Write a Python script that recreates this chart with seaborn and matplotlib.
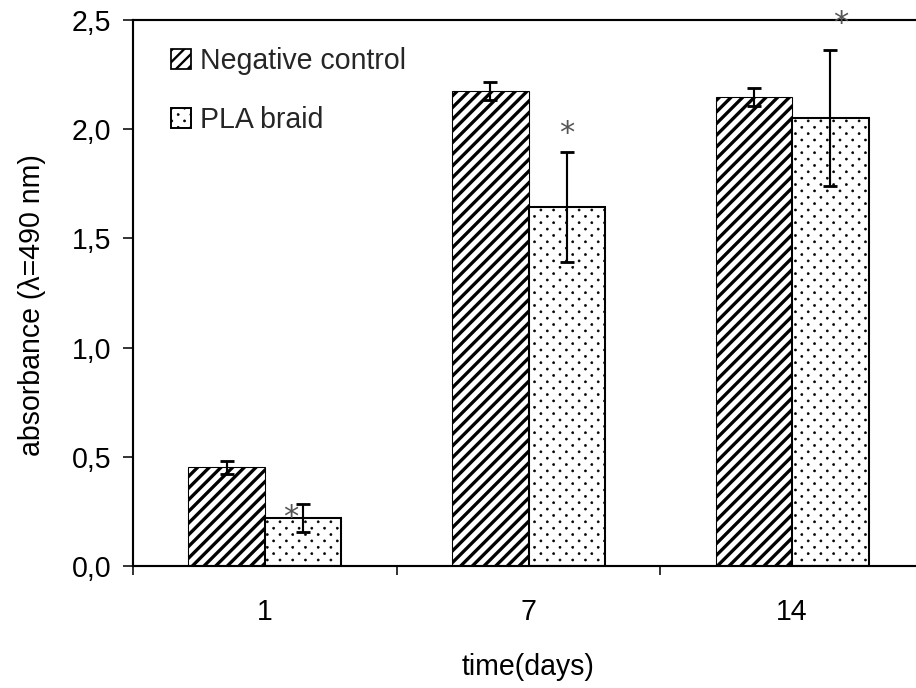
import matplotlib
matplotlib.use("Agg")
import matplotlib.pyplot as plt
import matplotlib.hatch as mhatch
from matplotlib.path import Path
import numpy as np
import pandas as pd
import seaborn as sns
from matplotlib.patches import Patch
from matplotlib.ticker import FixedLocator, FuncFormatter

# ---- data ----
days = ["1", "7", "14"]
series = ["Negative control", "PLA braid"]
neg_mean = [0.453, 2.175, 2.147]
neg_err = [0.030, 0.040, 0.040]
pla_mean = [0.220, 1.644, 2.051]
pla_err = [0.064, 0.252, 0.310]
star_y = [0.247, 2.005, 2.509]
y_ticks = [0.0, 0.5, 1.0, 1.5, 2.0, 2.5]
x_label = "time(days)"
y_label = "absorbance (λ=490 nm)"


# ---- diamond-lattice dot hatch (replaces the '.' hatch) ----
class DiamondDots(mhatch.HatchPatternBase):
    radius = 0.0075

    def __init__(self, hatch, density):
        n = hatch.count(".") * 11
        self.n = n
        circ = Path.unit_circle()
        self.cv = circ.vertices
        self.cc = circ.codes
        pts = []
        if n > 0:
            for r in range(2 * n + 1):
                y = r / (2 * n)
                xs = np.linspace(0, 1, n + 1) if r % 2 == 0 else (np.arange(n) + 0.5) / n
                pts.extend((x, y) for x in xs)
        self.pts = np.array(pts).reshape(-1, 2)
        self.num_vertices = len(self.pts) * len(self.cv)

    def set_vertices_and_codes(self, vertices, codes):
        vertices[:] = np.concatenate([self.cv * self.radius + p for p in self.pts])
        codes[:] = np.concatenate([self.cc] * len(self.pts))


mhatch._hatch_types = [DiamondDots if t is mhatch.SmallFilledCircles else t
                       for t in mhatch._hatch_types]

# ---- style ----
DPI = 140
sns.set_theme(style="white")
plt.rcParams["font.family"] = ["Liberation Sans", "DejaVu Sans"]
plt.rcParams["hatch.color"] = "black"
FS = 14.7

fig = plt.figure(figsize=(916 / DPI, 688 / DPI), dpi=DPI)
ax = fig.add_axes([133 / 916, 1 - 566 / 688, (924 - 133) / 916, (566 - 20) / 688])

df = pd.DataFrame({
    "day": days * 2,
    "series": [series[0]] * len(days) + [series[1]] * len(days),
    "value": neg_mean + pla_mean,
})
sns.barplot(data=df, x="day", y="value", hue="series", order=days,
            hue_order=series, palette=["white", "white"], saturation=1,
            width=0.58, errorbar=None, edgecolor="black", legend=False, ax=ax)

hatches = ["////", "."]
hlw = [1.7, 0.3]
elw = [0.56, 1.06]
means = [neg_mean, pla_mean]
errs = [neg_err, pla_err]
for ci, cont in enumerate(ax.containers[:2]):
    for bar, m, e in zip(cont, means[ci], errs[ci]):
        bar.set_hatch(hatches[ci])
        bar.set_linewidth(elw[ci])
        bar.set_edgecolor("black")
        if hasattr(bar, "set_hatch_linewidth"):
            bar.set_hatch_linewidth(hlw[ci])
        cx = bar.get_x() + bar.get_width() / 2
        ax.errorbar(cx, m, yerr=e, fmt="none", ecolor="black",
                    elinewidth=1.1, capsize=3.6, capthick=1.45, zorder=5)

# significance stars
star_dx = [-0.045, 0.0, 0.038]
for bar, sy, dx in zip(ax.containers[1], star_y, star_dx):
    cx = bar.get_x() + bar.get_width() / 2 + dx
    ax.annotate("*", (cx, sy), xytext=(0, -2.6), textcoords="offset points",
                ha="center", va="center", fontsize=15.6, color="#555555",
                family="DejaVu Sans", zorder=6, annotation_clip=False)

# axes
ax.set_xlim(-0.5, 2.5)
ax.set_ylim(0, 2.5)
ax.yaxis.set_major_locator(FixedLocator(y_ticks))
ax.yaxis.set_major_formatter(FuncFormatter(lambda v, p: f"{v:.1f}".replace(".", ",")))
ax.set_xticks(range(len(days)))
ax.set_xticklabels(days)
ax.xaxis.set_minor_locator(FixedLocator([-0.5, 0.5, 1.5, 2.5]))
ax.tick_params(axis="x", which="major", length=0, pad=16.7, labelsize=FS, colors="black")
ax.tick_params(axis="x", which="minor", length=4.7, width=0.8, direction="out",
               bottom=True, color="black")
ax.tick_params(axis="y", which="major", length=5.0, width=0.8, direction="out",
               left=True, pad=6.1, labelsize=FS, colors="black")
for s in ax.spines.values():
    s.set_visible(True)
    s.set_color("black")
    s.set_linewidth(1.1)
ax.set_xlabel(x_label, fontsize=FS, labelpad=13.4, color="black")
ax.set_ylabel(y_label, fontsize=FS, labelpad=13.4, color="black")
ax.yaxis.label.set_y(0.478)
ax.grid(False)

handles = [Patch(facecolor="white", edgecolor="black", hatch=hatches[0], linewidth=0.9),
           Patch(facecolor="white", edgecolor="black", hatch=hatches[1], linewidth=1.0)]
leg = fig.legend(handles, series, loc="upper left",
                 bbox_to_anchor=(171 / 916, 1 - 47 / 688), frameon=False,
                 fontsize=FS, handlelength=0.7, handleheight=0.7,
                 handletextpad=0.3, labelspacing=1.1, borderpad=0, borderaxespad=0)
for p, lw in zip(leg.get_patches(), [1.2, 0.3]):
    if hasattr(p, "set_hatch_linewidth"):
        p.set_hatch_linewidth(lw)

fig.savefig("out.png", dpi=DPI)
